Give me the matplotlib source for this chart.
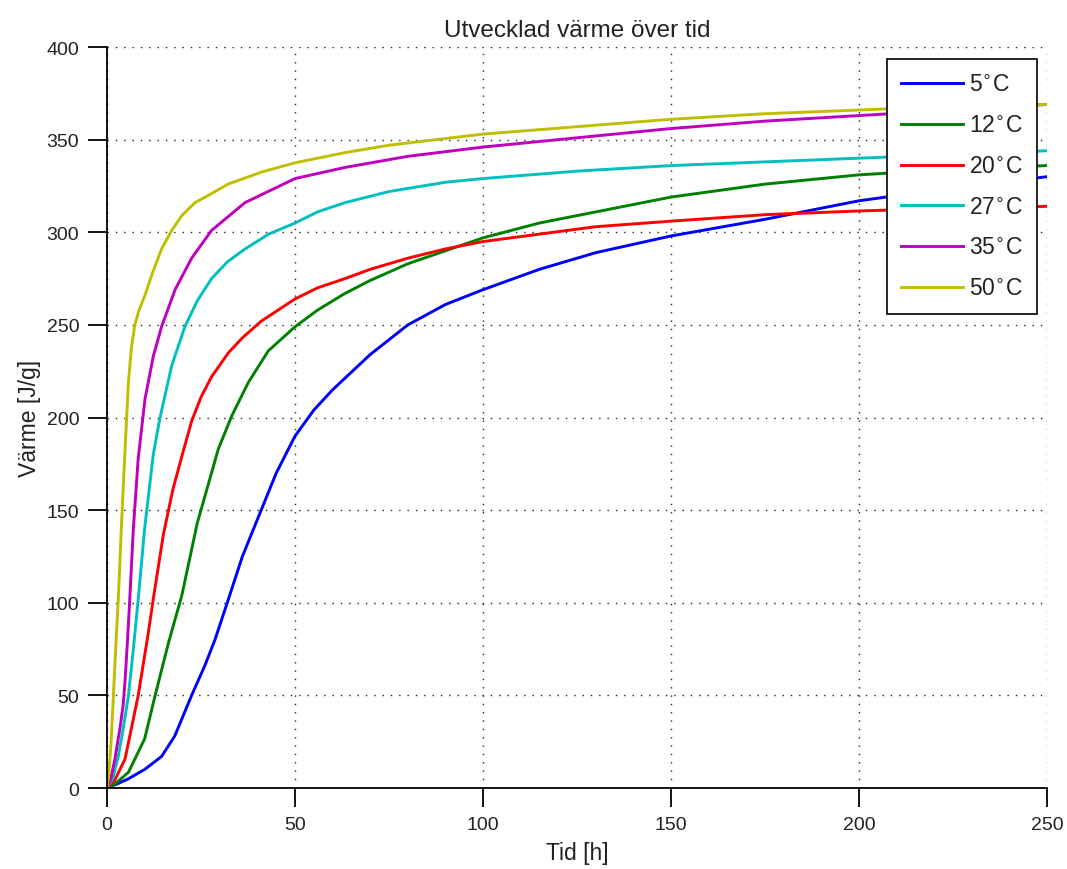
import matplotlib
matplotlib.use("Agg")
import matplotlib.pyplot as plt

plt.rcParams['font.family'] = ['Liberation Sans', 'DejaVu Sans']

labels = ["5$^{\\circ}$C", "12$^{\\circ}$C", "20$^{\\circ}$C", "27$^{\\circ}$C", "35$^{\\circ}$C", "50$^{\\circ}$C"]
colors = ["#0000ff", "#008000", "#ff0000", "#00bfbf", "#bf00bf", "#bfbf00"]

t5 = [0, 3, 5.7, 10, 14.5, 18, 22.5, 26, 28.7, 32.3, 36, 41, 45, 50, 55, 60, 70, 80, 90,
      100, 115, 130, 150, 175, 200, 225, 250]
q5 = [0, 2.5, 5, 10, 17, 28, 50, 66, 80, 102, 125, 150, 170, 190, 204, 215, 234, 250, 261,
      269, 280, 289, 298, 307, 317, 324, 330]

t12 = [0, 2, 5.7, 10, 12.8, 16.3, 19.9, 24, 29.6, 33.2, 37.6, 42.9, 50, 56, 63.3, 70, 80, 90,
       100, 115, 130, 150, 175, 200, 225, 250]
q12 = [0, 2, 8.5, 26.5, 50, 78, 104, 143, 183, 201, 219, 236, 249, 258, 267, 274, 283, 290,
       297, 305, 311, 319, 326, 331, 334, 336]

t20 = [0, 2, 4.8, 8.3, 11, 12.3, 15, 17.5, 20.3, 22.5, 25, 27.8, 32.3, 36, 41, 50, 56, 63.3,
       70, 80, 90, 100, 115, 130, 150, 175, 200, 225, 250]
q20 = [0, 4, 15.7, 50, 84, 102, 137, 161, 182, 198, 211, 222, 235, 243, 252, 264, 270, 275,
       280, 286, 291, 295, 299, 303, 306, 309.5, 311.5, 313, 314]

t27 = [0, 1.5, 3, 4.3, 5.7, 7, 8.3, 10, 12.3, 14.1, 17.2, 20.7, 24, 27.8, 32, 36.7, 43, 50,
       56, 63.3, 75, 90, 100, 125, 150, 175, 200, 225, 250]
q27 = [0, 5, 17, 32, 50, 75, 102, 140, 180, 200, 228, 249, 263, 275, 284, 291, 299, 305,
       311, 316, 322, 327, 329, 333, 336, 338, 340, 342, 344]

t35 = [0, 1, 2.1, 3.5, 4.3, 4.8, 5.4, 6, 7, 8.3, 10.1, 12.3, 14.5, 18.1, 22.5, 27.8, 36.7,
       50, 63.3, 80, 100, 125, 150, 175, 200, 225, 250]
q35 = [0, 5, 15.7, 33, 45, 58, 78, 100, 140, 178, 210, 233, 249, 269, 286, 301, 316,
       329, 335, 341, 346, 351, 356, 360, 363, 366, 369]

t50 = [0, 0.5, 1, 1.7, 2.3, 3, 3.8, 4.8, 5.7, 6.5, 7.4, 8.5, 10.1, 11.9, 14.5, 17.2, 19.9,
       23.4, 27, 32.2, 41.1, 50, 63.3, 75, 100, 125, 150, 175, 200, 225, 250]
q50 = [0, 8, 22, 50, 75, 102, 140, 183, 219, 238, 250, 258, 266, 277, 291, 301, 309,
       316, 320, 326, 332.5, 337.5, 343, 347, 353, 357, 361, 364, 366, 368, 369]

series = [(t5, q5), (t12, q12), (t20, q20), (t27, q27), (t35, q35), (t50, q50)]

fig = plt.figure(figsize=(10.67, 8.70), dpi=100)
ax = fig.add_axes([0.1003, 0.0931, 0.881, 0.8517])

for (t, q), lab, c in zip(series, labels, colors):
    ax.plot(t, q, color=c, lw=2.1, label=lab, solid_joinstyle='round')

ax.set_xlim(0, 250)
ax.set_ylim(0, 400)
ax.set_xticks([0, 50, 100, 150, 200, 250])
ax.set_yticks([0, 50, 100, 150, 200, 250, 300, 350, 400])
ax.grid(True, color='#222222', linestyle=(0, (1, 5)), linewidth=1)
ax.spines['top'].set_visible(False)
ax.spines['right'].set_visible(False)
ax.spines['left'].set_linewidth(1.3)
ax.spines['bottom'].set_linewidth(1.3)
ax.tick_params(direction='out', length=14, width=1.3, labelsize=14, pad=6,
               top=False, right=False, labelcolor='#222222')
ax.set_xlabel("Tid [h]", fontsize=16.5, labelpad=6, color='#222222')
ax.set_ylabel("Värme [J/g]", fontsize=16.5, labelpad=4, color='#222222')
ax.set_title("Utvecklad värme över tid", fontsize=17.5, pad=8, color='#222222')

leg = ax.legend(loc='upper right', bbox_to_anchor=(0.9894, 0.9838), borderaxespad=0,
                fontsize=16.5, fancybox=False, framealpha=1, edgecolor='black',
                handlelength=2.7, handletextpad=0.3, labelspacing=0.78, borderpad=0.6)
leg.get_frame().set_linewidth(1.2)
for txt in leg.get_texts():
    txt.set_color('#222222')

fig.savefig("out.png", dpi=100)
